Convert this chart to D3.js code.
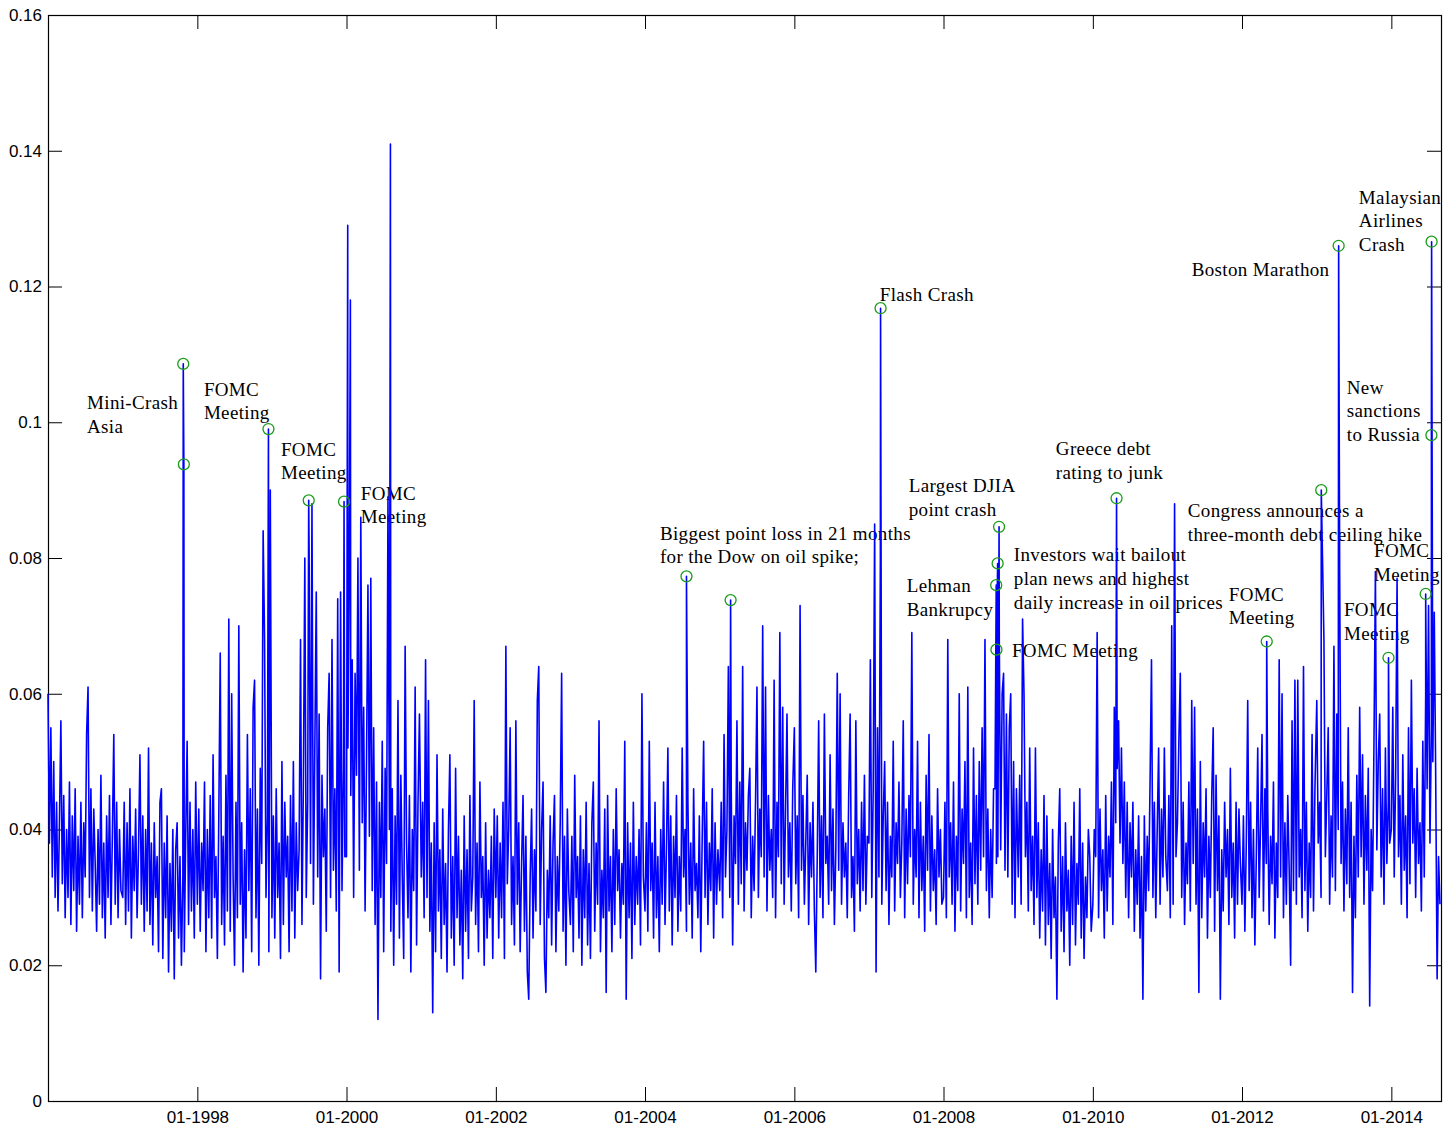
<!DOCTYPE html>
<html lang="en">
<head>
<meta charset="UTF-8">
<script src="https://cdnjs.cloudflare.com/ajax/libs/d3/7.8.5/d3.min.js"></script>
<title>Volatility</title>
<style>
    body { margin: 0; background: #fff; }
    .axis text { font-family: "Liberation Sans", Arial, sans-serif; font-size: 17px; fill: #000; }
    .axis line { stroke: #000; }
    .note { font-family: "Liberation Serif", "Times New Roman", serif; font-size: 19px; letter-spacing: 0.35px; fill: #000; }
</style>
</head>
<body>
<div id="chart"></div>
<script>
// weekly readings (in 1/1000), first value on 1 January of each year
var v1996 = [60,38,55,33,50,30,44,28,41,56,32,45,27,40,30,47,26,42,31,46,25,39,29,44,27,41,33,54,61,30,46,28,43,35,25,40,29,48,27,38,24,42,30,45,26,39,54,29,44,27,40,31];
var v1997 = [30,44,26,41,28,46,24,39,31,43,27,37,51,29,42,25,40,28,52,26,38,23,41,30,36,22,44,46,21,38,27,42,19,35,25,40,18,37,41,24,36,20,33,22,39,53,26,44,28,40,24,47];
var v1998 = [29,43,25,38,31,47,22,40,27,45,24,51,30,36,21,42,66,26,39,23,48,28,71,25,60,33,20,44,27,70,29,41,19,37,24,54,31,46,22,58,62,27,43,20,49,35,84,68,30,42,22,90];
var v1999 = [27,42,24,46,30,38,21,50,26,44,33,39,22,45,28,50,24,41,31,37,68,26,47,80,30,44,81,35,88,29,52,75,33,57,18,48,36,43,25,55,63,30,68,34,46,28,74,19,75,31,49,36];
var v2000 = [36,52,81,45,65,30,63,48,80,34,86,41,58,28,50,76,39,77,31,55,26,47,12,44,30,53,22,49,35,89,40,25,46,20,42,29,59,24,48,33,21,67,38,27,45,19,40,31,61,23,44,57];
var v2001 = [33,44,27,65,30,59,25,38,13,41,22,51,28,37,21,43,26,35,19,40,51,24,36,20,49,27,39,23,34,18,42,25,37,21,45,28,33,59,26,38,22,47,30,36,20,41,24,34,27,39,21,43];
var v2002 = [30,42,24,38,27,44,21,67,32,40,55,26,36,23,56,29,41,22,35,45,25,39,19,15,33,43,24,37,28,59,64,26,40,47,21,16,34,27,42,23,38,45,22,36,28,41,63,25,39,20,43,31];
var v2003 = [26,39,22,48,30,36,24,42,20,37,27,44,23,35,21,41,47,25,38,29,56,22,34,27,43,16,45,28,36,22,40,26,46,31,37,24,35,29,53,15,41,27,38,21,44,26,36,29,40,23,60,33];
var v2004 = [28,41,25,53,31,38,24,44,27,36,22,40,29,47,26,37,52,28,42,23,39,30,45,25,36,28,52,33,40,25,44,29,38,24,46,31,35,27,42,22,39,53,30,44,26,38,31,46,24,41,29,37];
var v2005 = [31,44,27,54,33,40,64,30,46,23,42,35,56,29,47,32,64,28,41,34,45,49,27,39,31,44,61,30,43,36,70,33,61,28,45,34,40,30,62,27,44,36,69,32,58,29,43,57,33,41,28,46];
var v2006 = [55,32,42,27,73,34,45,29,38,48,26,41,33,44,28,19,36,56,30,42,27,57,35,39,29,51,31,43,26,37,63,34,60,29,41,33,38,27,45,57,30,36,25,56,32,40,28,44,31,48,29,39];
var v2007 = [38,65,30,46,85,19,55,33,80,29,42,50,31,44,26,39,33,53,28,41,35,47,30,38,56,27,43,32,45,36,69,29,40,33,53,27,44,31,39,25,48,34,54,28,42,31,37,26,46,33,40,29];
var v2008 = [30,44,27,68,33,41,29,47,25,39,31,60,28,43,35,50,27,61,30,38,26,52,32,45,29,50,34,55,36,68,31,43,27,40,30,46,46,35,36,68,37,60,63,34,57,33,55,60,29,50,27,46];
var v2009 = [33,48,29,71,60,36,44,28,52,31,39,26,52,30,41,24,37,28,45,23,42,26,35,21,40,27,33,15,38,46,25,36,22,41,28,34,20,39,26,44,23,35,29,46,24,38,21,33,27,40,36,25];
var v2010 = [29,40,36,69,27,43,31,37,24,45,28,39,33,47,26,58,41,49,56,38,52,35,47,30,44,27,41,33,44,25,37,29,42,24,36,15,42,28,39,31,47,65,30,44,27,40,52,29,43,33,52,36];
var v2011 = [31,45,27,70,29,88,36,41,53,63,30,44,26,38,32,47,28,59,35,58,29,43,16,50,27,41,33,46,24,39,30,45,55,25,48,31,42,15,37,28,44,33,40,26,49,30,38,24,44,29,43,35];
var v2012 = [29,42,25,38,59,31,44,27,40,23,36,52,30,41,54,28,46,35,43,26,39,32,47,24,38,30,65,33,60,27,41,29,45,34,20,56,31,62,29,62,33,40,27,64,31,44,25,38,30,54,28,46];
var v2013 = [59,38,44,30,80,68,36,45,55,29,42,33,67,31,57,40,78,35,47,28,43,32,55,30,44,16,39,27,48,33,58,36,51,29,45,34,49,14,40,31,53,78,37,50,57,33,46,29,52,35,44,38];
var v2014 = [40,58,33,48,77,36,45,29,51,34,42,27,55,32,62,38,46,30,49,35,41,28,53,33,60,46,73,38,55,50,72,48,18,36,29];

var years  = [1996,1997,1998,1999,2000,2001,2002,2003,2004,2005,2006,2007,2008,2009,2010,2011,2012,2013,2014];
var weekly = [v1996,v1997,v1998,v1999,v2000,v2001,v2002,v2003,v2004,v2005,v2006,v2007,v2008,v2009,v2010,v2011,v2012,v2013,v2014];

// single days that stand out (in 1/1000)
var spikeDates = ["1997-10-24","1997-10-27","1998-12-15","1999-06-30","1999-12-20","2000-01-07","2000-01-20","2000-08-03",
                  "2004-07-22","2005-02-23","2007-02-27","2008-09-15","2008-09-16","2008-09-22","2008-09-29","2010-04-27",
                  "2012-05-01","2013-01-23","2013-04-18","2013-12-18","2014-06-18","2014-07-16","2014-07-17"];
var spikeVals  = [108.6,93.8,99.0,88.5,88.3,129,118,141,
                  77.3,73.8,116.8,76.0,66.5,79.2,84.6,88.8,
                  67.7,90.0,126.0,65.3,74.7,98.1,126.6];

// days marked with a circle
var markDates = ["1997-10-24","1997-10-27","1998-12-15","1999-06-30","1999-12-20","2004-07-22","2005-02-23","2007-02-27",
                 "2008-09-15","2008-09-16","2008-09-22","2008-09-29","2010-04-27","2012-05-01","2013-01-23","2013-04-18",
                 "2013-12-18","2014-06-18","2014-07-16","2014-07-17"];

// annotations: text lines and where the first baseline sits (date, value)
var noteText = [
    ["Mini-Crash", "Asia"],
    ["FOMC", "Meeting"],
    ["FOMC", "Meeting"],
    ["FOMC", "Meeting"],
    ["Biggest point loss in 21 months", "for the Dow on oil spike;"],
    ["Flash Crash"],
    ["Largest DJIA", "point crash"],
    ["Lehman", "Bankrupcy"],
    ["Investors wait bailout", "plan news and highest", "daily increase in oil prices"],
    ["FOMC Meeting"],
    ["Greece debt", "rating to junk"],
    ["Congress announces a", "three-month debt ceiling hike"],
    ["FOMC", "Meeting"],
    ["Boston Marathon"],
    ["Malaysian", "Airlines", "Crash"],
    ["New", "sanctions", "to Russia"],
    ["FOMC", "Meeting"],
    ["FOMC", "Meeting"]
];
var noteDates = ["1996-07-10","1998-02-02","1999-02-14","2000-03-11","2004-03-14","2007-02-23","2007-07-15","2007-07-05",
                 "2008-12-10","2008-12-01","2009-07-04","2011-04-11","2011-10-28","2011-04-30","2013-07-26","2013-05-28",
                 "2013-10-08","2013-05-14"];
var noteVals  = [0.1019,0.1039,0.0951,0.0886,0.0827,0.1178,0.0897,0.0750,
                 0.0795,0.0654,0.0952,0.0860,0.0737,0.1215,0.1322,0.1042,
                 0.0801,0.0714];

var yTicks = [0,0.02,0.04,0.06,0.08,0.1,0.12,0.14,0.16];
var xTickYears = [1998,2000,2002,2004,2006,2008,2010,2012,2014];

var W = 1455, H = 1129;
var margin = {top: 15, right: 14, bottom: 28, left: 48};
var parse = d3.timeParse("%Y-%m-%d");

var x = d3.scaleTime()
    .domain([new Date(1996,0,1), new Date(2014,8,1)])
    .range([margin.left, W - margin.right]);
var y = d3.scaleLinear()
    .domain([0, 0.16])
    .range([H - margin.bottom, margin.top]);

// build the series
var series = [];
years.forEach(function(yr, k) {
    weekly[k].forEach(function(v, i) {
        series.push({date: new Date(yr, 0, 1 + 7*i), v: v/1000});
    });
});
spikeDates.forEach(function(d, i) {
    series.push({date: parse(d), v: spikeVals[i]/1000, spike: true});
});
series.sort(function(a, b) { return a.date - b.date; });

var svg = d3.select("#chart").append("svg")
    .attr("width", W)
    .attr("height", H)
    .style("background", "#fff");

var xTicks = xTickYears.map(function(yr) { return new Date(yr, 0, 1); });
var yFmt = function(d) { return d === 0 ? "0" : String(+d.toFixed(2)); };

svg.append("g").attr("class", "axis")
    .attr("transform", "translate(0," + (H - margin.bottom) + ")")
    .call(d3.axisBottom(x).tickValues(xTicks).tickFormat(d3.timeFormat("%m-%Y")).tickSize(-14).tickPadding(10))
    .call(function(g) { g.select(".domain").remove(); });
svg.append("g").attr("class", "axis")
    .attr("transform", "translate(0," + margin.top + ")")
    .call(d3.axisTop(x).tickValues(xTicks).tickFormat("").tickSize(-14))
    .call(function(g) { g.select(".domain").remove(); });
svg.append("g").attr("class", "axis")
    .attr("transform", "translate(" + margin.left + ",0)")
    .call(d3.axisLeft(y).tickValues(yTicks).tickFormat(yFmt).tickSize(-14).tickPadding(6))
    .call(function(g) { g.select(".domain").remove(); });
svg.append("g").attr("class", "axis")
    .attr("transform", "translate(" + (W - margin.right) + ",0)")
    .call(d3.axisRight(y).tickValues(yTicks).tickFormat("").tickSize(-14))
    .call(function(g) { g.select(".domain").remove(); });

svg.selectAll(".axis text").attr("font-family", null).attr("font-size", null);

svg.append("rect")
    .attr("x", margin.left + 0.5)
    .attr("y", margin.top + 0.5)
    .attr("width", W - margin.left - margin.right)
    .attr("height", H - margin.top - margin.bottom)
    .attr("fill", "none")
    .attr("stroke", "#000")
    .attr("stroke-width", 1.2);

// notes
noteText.forEach(function(lines, i) {
    var t = svg.append("text")
        .attr("class", "note")
        .attr("x", x(parse(noteDates[i])))
        .attr("y", y(noteVals[i]));
    lines.forEach(function(s, j) {
        t.append("tspan")
            .attr("x", x(parse(noteDates[i])))
            .attr("dy", j === 0 ? 0 : 23.7)
            .text(s);
    });
});

// the series
var line = d3.line()
    .x(function(d) { return x(d.date); })
    .y(function(d) { return y(d.v); });

svg.append("path")
    .datum(series)
    .attr("d", line)
    .attr("fill", "none")
    .attr("stroke", "#0000ff")
    .attr("stroke-width", 1.6)
    .attr("stroke-linejoin", "round");

// circles
var marks = markDates.map(function(d) {
    var t = +parse(d);
    return series.find(function(p) { return p.spike && +p.date === t; });
});

svg.selectAll(".mark")
    .data(marks)
    .enter().append("circle")
    .attr("class", "mark")
    .attr("cx", function(d) { return x(d.date); })
    .attr("cy", function(d) { return y(d.v); })
    .attr("r", 5.5)
    .attr("fill", "none")
    .attr("stroke", "#1a9c1a")
    .attr("stroke-width", 1.3);
</script>
</body>
</html>
